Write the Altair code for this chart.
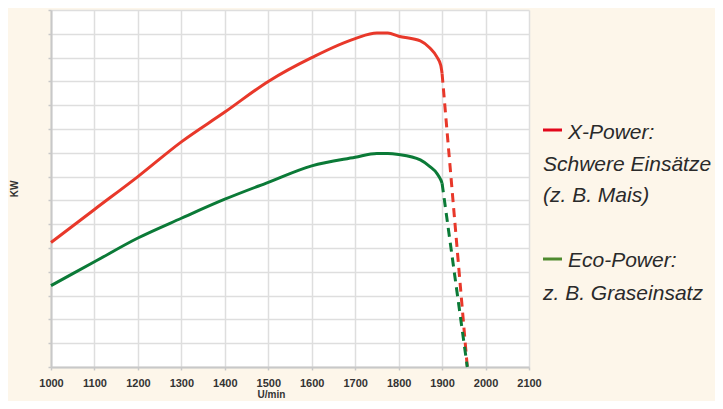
import altair as alt
import pandas as pd

# --- data ---
rpm = [1000, 1100, 1200, 1300, 1400, 1500, 1600, 1700, 1750, 1775, 1800, 1850, 1872, 1888, 1897, 1900]
x_power = [5.23, 6.62, 8.0, 9.46, 10.71, 12.0, 13.0, 13.8, 14.03, 14.03, 13.9, 13.7, 13.4, 13.03, 12.67, 12.33]
eco_power = [3.42, 4.42, 5.42, 6.25, 7.05, 7.76, 8.45, 8.81, 8.97, 8.97, 8.93, 8.7, 8.42, 8.14, 7.86, 7.72]

drop_rpm = [1900, 1958]
x_power_drop = [12.33, 0.0]
eco_power_drop = [7.72, 0.0]

series_names = ["X-Power", "Eco-Power"]
series_colors = ["#e8382a", "#0b7a37"]
legend_colors = ["#e2071b", "#4e8a2e"]

x_ticks = list(range(1000, 2101, 100))
y_ticks = list(range(0, 16))

legend_lines = ["X-Power:", "Schwere Einsätze", "(z. B. Mais)", "Eco-Power:", "z. B. Graseinsatz"]

# --- tables ---
solid = pd.DataFrame({
    "series": [series_names[0]] * len(rpm) + [series_names[1]] * len(rpm),
    "rpm": rpm + rpm,
    "kw": x_power + eco_power,
})
dashed = pd.DataFrame({
    "series": [series_names[0]] * len(drop_rpm) + [series_names[1]] * len(drop_rpm),
    "rpm": drop_rpm + drop_rpm,
    "kw": x_power_drop + eco_power_drop,
})

W, H = 478, 357

x_enc = alt.X(
    "rpm:Q",
    scale=alt.Scale(domain=[1000, 2100], nice=False, zero=False),
    axis=alt.Axis(values=x_ticks, format="d", title="U/min", titleX=220, titleY=30,
                  titleAnchor="start", titleAlign="center", titleBaseline="alphabetic",
                  labelFlush=False, labelOverlap=False),
)
y_enc = alt.Y(
    "kw:Q",
    scale=alt.Scale(domain=[0, 15], nice=False, zero=True),
    axis=alt.Axis(values=y_ticks, labels=False, title="KW", titleX=-37, titleY=H / 2,
                  titleAngle=270, titleAlign="center", titleBaseline="middle"),
)
color_enc = alt.Color("series:N", scale=alt.Scale(domain=series_names, range=series_colors), legend=None)

solid_layer = alt.Chart(solid).mark_line(strokeWidth=3, interpolate="monotone").encode(
    x=x_enc, y=y_enc, color=color_enc, detail="series:N"
)
dashed_layer = alt.Chart(dashed).mark_line(strokeWidth=3, strokeDash=[9, 6]).encode(
    x=x_enc, y=y_enc, color=color_enc, detail="series:N"
)

one = pd.DataFrame({"a": [0]})
layers = [solid_layer, dashed_layer]

# legend swatches
for yy, col in [(120, legend_colors[0]), (249, legend_colors[1])]:
    layers.append(
        alt.Chart(one).mark_rule(strokeWidth=3).encode(
            x=alt.value(492), x2=alt.value(511), y=alt.value(yy), color=alt.value(col)
        )
    )

# legend text
text_pos = [(517, 128.5), (492, 161), (492, 191.5), (517, 256.5), (492, 290)]
for label, (px, py) in zip(legend_lines, text_pos):
    layers.append(
        alt.Chart(one).mark_text(
            text=label, align="left", baseline="alphabetic", font="Liberation Sans",
            fontStyle="italic", fontSize=21, color="#2a2a2a"
        ).encode(x=alt.value(px), y=alt.value(py))
    )

chart = alt.layer(*layers).properties(
    width=W, height=H,
    autosize=alt.AutoSizeParams(type="none"),
    padding={"left": 43, "top": 2, "right": 186, "bottom": 34},
    background="#fdf6ea",
).configure_view(
    fill="white", stroke=None
).configure_axis(
    grid=True, gridColor="#dedede", gridWidth=1.5,
    domainColor="#c8c8c8", domainWidth=2,
    tickColor="#c8c8c8", tickSize=3, tickWidth=1.5,
    labelFont="Liberation Sans", labelFontSize=11, labelFontWeight="bold",
    labelColor="#333333", labelPadding=7,
    titleFont="Liberation Sans", titleFontSize=10, titleFontWeight="bold",
    titleColor="#333333",
)

chart.save("out.html", embed_options={"renderer": "svg", "actions": False})
